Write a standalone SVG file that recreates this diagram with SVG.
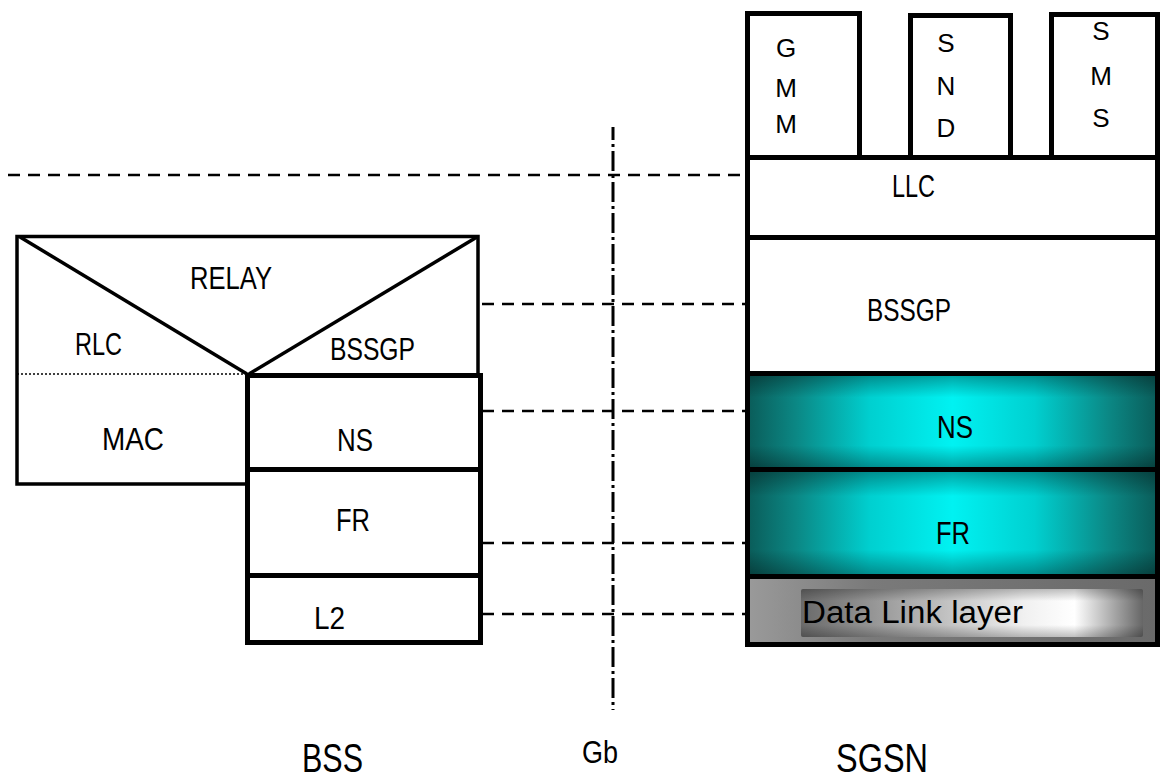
<svg xmlns="http://www.w3.org/2000/svg" width="1165" height="782" viewBox="0 0 1165 782">
  <defs>
    <linearGradient id="tealH" x1="0" y1="0" x2="1" y2="0">
      <stop offset="0" stop-color="#0a5c59"/>
      <stop offset="0.12" stop-color="#0b8885"/>
      <stop offset="0.3" stop-color="#00d0d0"/>
      <stop offset="0.5" stop-color="#00f2f2"/>
      <stop offset="0.7" stop-color="#00d0d0"/>
      <stop offset="0.88" stop-color="#0b8885"/>
      <stop offset="1" stop-color="#0a5c59"/>
    </linearGradient>
    <linearGradient id="shadeV" x1="0" y1="0" x2="0" y2="1">
      <stop offset="0" stop-color="#000" stop-opacity="0.35"/>
      <stop offset="0.25" stop-color="#000" stop-opacity="0"/>
      <stop offset="0.75" stop-color="#000" stop-opacity="0"/>
      <stop offset="1" stop-color="#000" stop-opacity="0.35"/>
    </linearGradient>
    <linearGradient id="greyOuter" x1="0" y1="0" x2="1" y2="0">
      <stop offset="0" stop-color="#9a9a9a"/>
      <stop offset="0.3" stop-color="#7a7a7a"/>
      <stop offset="1" stop-color="#6a6a6a"/>
    </linearGradient>
    <linearGradient id="greyInner" x1="0" y1="0" x2="1" y2="0">
      <stop offset="0" stop-color="#6a6a6a"/>
      <stop offset="0.3" stop-color="#a8a8a8"/>
      <stop offset="0.65" stop-color="#f0f0f0"/>
      <stop offset="0.8" stop-color="#ffffff"/>
      <stop offset="1" stop-color="#666666"/>
    </linearGradient>
    <style>
      .box { fill: none; stroke: #000; stroke-width: 5; }
      .thin { fill: none; stroke: #000; stroke-width: 3.5; }
      .dash { fill: none; stroke: #000; stroke-width: 2.5; stroke-dasharray: 12 8; }
      .dashdot { fill: none; stroke: #000; stroke-width: 3; stroke-dasharray: 20 4 3 4; stroke-dashoffset: 7; }
      .t { font-family: "Liberation Sans", Arial, sans-serif; font-size: 31px; fill: #000; }
      .s { font-family: "Liberation Sans", Arial, sans-serif; font-size: 26px; fill: #000; text-anchor: middle; }
      .big { font-family: "Liberation Sans", Arial, sans-serif; font-size: 40px; fill: #000; }
    </style>
  </defs>

  <rect x="0" y="0" width="1165" height="782" fill="#fff"/>

  <!-- connectors -->
  <g id="connectors">
    <line class="dash" x1="8" y1="175" x2="746" y2="175"/>
    <line class="dash" x1="482" y1="304" x2="746" y2="304"/>
    <line class="dash" x1="482" y1="411" x2="746" y2="411"/>
    <line class="dash" x1="482" y1="543" x2="746" y2="543"/>
    <line class="dash" x1="482" y1="614" x2="746" y2="614"/>
    <line class="dashdot" x1="613" y1="127" x2="613" y2="710"/>
  </g>

  <!-- BSS -->
  <g id="bss-upper">
    <polyline class="thin" points="247,484 17,484 17,236.5 478,236.5 478,375"/>
    <line class="thin" x1="20" y1="237" x2="247" y2="374"/>
    <line class="thin" x1="477" y1="237" x2="249" y2="374"/>
    <line x1="17" y1="374" x2="247" y2="374" stroke="#000" stroke-width="1.5" stroke-dasharray="2 2"/>
    <text class="t" x="190" y="289" textLength="82" lengthAdjust="spacingAndGlyphs">RELAY</text>
    <text class="t" x="75" y="355" textLength="47" lengthAdjust="spacingAndGlyphs">RLC</text>
    <text class="t" x="330" y="360" textLength="85" lengthAdjust="spacingAndGlyphs">BSSGP</text>
    <text class="t" x="102" y="450" textLength="62" lengthAdjust="spacingAndGlyphs">MAC</text>
  </g>
  <g id="bss-ns">
    <rect class="box" x="247.5" y="375.5" width="233" height="94"/>
    <text class="t" x="337" y="451" textLength="36" lengthAdjust="spacingAndGlyphs">NS</text>
  </g>
  <g id="bss-fr">
    <rect class="box" x="247.5" y="469.5" width="233" height="106"/>
    <text class="t" x="336" y="531" textLength="34" lengthAdjust="spacingAndGlyphs">FR</text>
  </g>
  <g id="bss-l2">
    <rect class="box" x="247.5" y="575.5" width="233" height="67"/>
    <text class="t" x="314" y="629" textLength="31" lengthAdjust="spacingAndGlyphs">L2</text>
  </g>

  <!-- SGSN -->
  <g id="sgsn-gmm">
    <rect class="box" x="747.5" y="13.5" width="112" height="144" fill="#fff"/>
    <text class="s" x="786" y="57">G</text>
    <text class="s" x="786" y="97">M</text>
    <text class="s" x="786" y="133">M</text>
  </g>
  <g id="sgsn-snd">
    <rect class="box" x="910.5" y="15.5" width="100" height="142"/>
    <text class="s" x="946" y="52">S</text>
    <text class="s" x="946" y="95">N</text>
    <text class="s" x="946" y="137">D</text>
  </g>
  <g id="sgsn-sms">
    <rect class="box" x="1051.5" y="14.5" width="106" height="143"/>
    <text class="s" x="1101" y="40">S</text>
    <text class="s" x="1101" y="85">M</text>
    <text class="s" x="1101" y="127">S</text>
  </g>
  <g id="sgsn-llc">
    <rect class="box" x="747.5" y="157.5" width="410" height="80"/>
    <text class="t" x="892" y="197" textLength="43" lengthAdjust="spacingAndGlyphs">LLC</text>
  </g>
  <g id="sgsn-bssgp">
    <rect class="box" x="747.5" y="237.5" width="410" height="136"/>
    <text class="t" x="867" y="321" font-size="32" textLength="84" lengthAdjust="spacingAndGlyphs">BSSGP</text>
  </g>
  <g id="sgsn-ns">
    <rect x="747.5" y="373.5" width="410" height="96" fill="url(#tealH)"/>
    <rect x="747.5" y="373.5" width="410" height="96" fill="url(#shadeV)"/>
    <rect class="box" x="747.5" y="373.5" width="410" height="96"/>
    <text class="t" x="937" y="438" font-size="34" textLength="36" lengthAdjust="spacingAndGlyphs">NS</text>
  </g>
  <g id="sgsn-fr">
    <rect x="747.5" y="469.5" width="410" height="107" fill="url(#tealH)"/>
    <rect x="747.5" y="469.5" width="410" height="107" fill="url(#shadeV)"/>
    <rect class="box" x="747.5" y="469.5" width="410" height="107"/>
    <text class="t" x="936" y="544" font-size="34" textLength="34" lengthAdjust="spacingAndGlyphs">FR</text>
  </g>
  <g id="sgsn-dl">
    <rect x="747.5" y="576.5" width="410" height="68" fill="url(#greyOuter)"/>
    <rect x="801" y="589" width="342" height="48" rx="2" fill="url(#greyInner)"/>
    <rect x="801" y="589" width="342" height="48" rx="2" fill="url(#shadeV)" opacity="0.7"/>
    <rect class="box" x="747.5" y="576.5" width="410" height="68"/>
    <text class="t" x="802" y="623" font-size="33" textLength="221" lengthAdjust="spacingAndGlyphs">Data Link layer</text>
  </g>

  <!-- labels -->
  <g id="labels">
    <text class="big" x="302" y="772" textLength="61" lengthAdjust="spacingAndGlyphs">BSS</text>
    <text class="t" x="582" y="763" font-size="30" textLength="36" lengthAdjust="spacingAndGlyphs">Gb</text>
    <text class="big" x="836" y="772" textLength="92" lengthAdjust="spacingAndGlyphs">SGSN</text>
  </g>
</svg>
